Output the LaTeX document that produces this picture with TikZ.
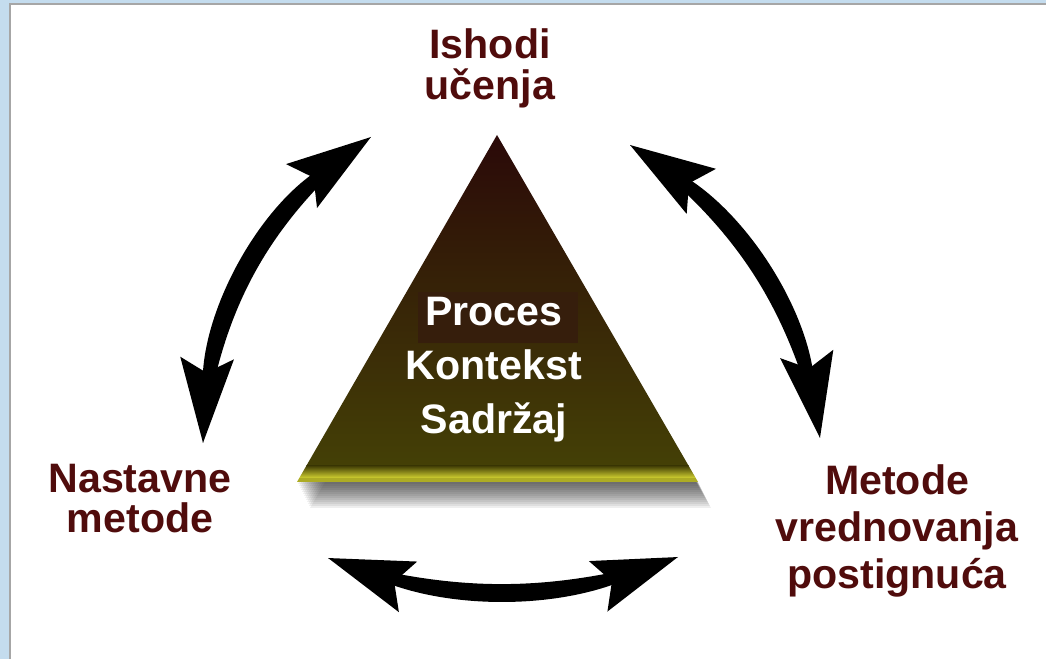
\documentclass[tikz,border=0pt]{standalone}
\usepackage{fontspec}
\setmainfont{Liberation Sans}
\usetikzlibrary{arrows.meta,calc}
\definecolor{labelred}{RGB}{80,12,12}
\definecolor{frameblue}{RGB}{196,220,238}
\definecolor{topbrown}{RGB}{42,8,8}
\definecolor{midolive}{RGB}{56,42,10}
\definecolor{lowolive}{RGB}{68,64,6}
\definecolor{edgeyellow}{RGB}{208,208,48}
\definecolor{boxbrown}{RGB}{54,30,12}
\tikzset{
    lbl/.style={anchor=north, inner sep=0pt, align=center, text=labelred},
    tritext/.style={anchor=north, inner sep=0pt, align=center, text=white,
        font=\bfseries\fontsize{11.7}{15.4}\selectfont},
    dblarrow/.style={line width=2pt, {Stealth[length=24pt, width=15pt, inset=4pt]}-{Stealth[length=24pt, width=15pt, inset=4pt]}}
}
\begin{document}
\begin{tikzpicture}[x=0.01cm, y=0.01cm]
    \useasboundingbox (0,0) rectangle (1046,-659);
    % frame
    \fill[frameblue] (0,0) rectangle (1046,-659);
    \fill[white] (10,-4) rectangle (1046,-659);
    \draw[gray!70, line width=0.4pt] (10,-659) -- (10,-4) -- (1046,-4);
    % triangle
    \coordinate (apex) at (497,-135);
    \coordinate (bl) at (297,-482);
    \coordinate (br) at (698,-482);
    \foreach \d in {2,4,...,26}
        \fill[black!90, opacity=0.07] ($(apex)+(\d*0.5,-\d)$) -- ($(bl)+(\d*0.5,-\d)$) -- ($(br)+(\d*0.5,-\d)$) -- cycle;
    \begin{scope}
        \clip (apex) -- (bl) -- (br) -- cycle;
        \shade[top color=topbrown, middle color=midolive, bottom color=lowolive] (290,-130) rectangle (705,-466);
        \shade[top color=lowolive, bottom color=edgeyellow] (290,-466) rectangle (705,-478);
        \fill[edgeyellow!75!lowolive] (290,-478) rectangle (705,-484);
        \fill[boxbrown] (418,-292) rectangle (578,-343);
    \end{scope}
    \node[tritext] (core) at (494,-296) {Proces\\Kontekst\\Sadržaj};
    % labels
    \node[lbl, font=\bfseries\fontsize{11.7}{11.7}\selectfont] (ishodi) at (490,-28) {Ishodi\\učenja};
    \node[lbl, font=\bfseries\fontsize{11.7}{11.4}\selectfont] (nastavne) at (140,-463) {Nastavne\\metode};
    \node[lbl, font=\bfseries\fontsize{11.7}{13.4}\selectfont] (vrednovanje) at (897,-464) {Metode\\vrednovanja\\postignuća};
    % arrows
    \coordinate (ltop) at (371,-137);
    \coordinate (lbot) at (203,-443);
    \coordinate (rtop) at (630,-145);
    \coordinate (rbot) at (820,-438);
    \coordinate (bleft) at (328,-558);
    \coordinate (bright) at (678,-557);
    \fill (ltop) to[bend right=21] (lbot) to[bend left=31] (ltop);
    \draw[dblarrow] (ltop) to[bend right=26] (lbot);
    \fill (rtop) to[bend left=19] (rbot) to[bend right=29] (rtop);
    \draw[dblarrow] (rtop) to[bend left=24] (rbot);
    \fill (bleft) to[bend right=15] (bright) to[bend left=25] (bleft);
    \draw[dblarrow] (bleft) to[bend right=20] (bright);
\end{tikzpicture}
\end{document}
